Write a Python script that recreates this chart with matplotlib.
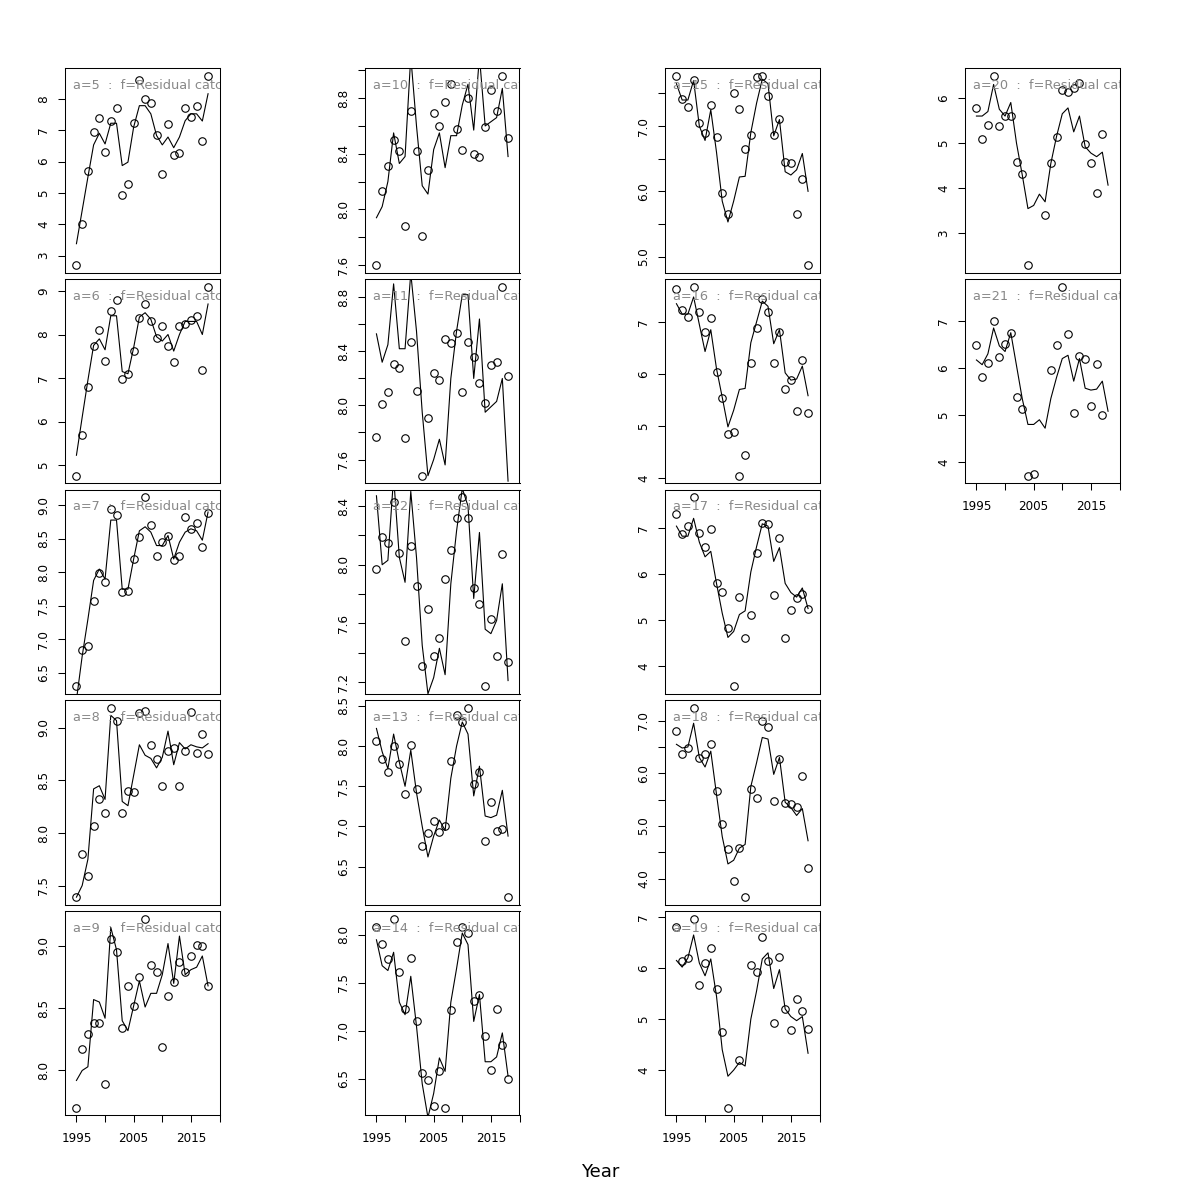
import numpy as np
import matplotlib
matplotlib.use('Agg')
import matplotlib.pyplot as plt

nan = float('nan')

years = [1995, 1996, 1997, 1998, 1999, 2000, 2001, 2002, 2003, 2004, 2005, 2006,
         2007, 2008, 2009, 2010, 2011, 2012, 2013, 2014, 2015, 2016, 2017, 2018]

# observed points (circles) and fitted line for each age
obs_a5 = [2.70, 4.01, 5.70, 6.95, 7.39, 6.31, 7.30, 7.72, 4.94, 5.29, 7.22, 8.59, 7.98, 7.85, 6.85, 5.60, 7.18, 6.20, 6.26, 7.70, 7.41, 7.77, 6.66, 8.73]
fit_a5 = [3.38, 4.44, 5.50, 6.53, 6.90, 6.56, 7.22, 7.22, 5.87, 5.98, 7.10, 7.78, 7.78, 7.52, 6.83, 6.53, 6.78, 6.44, 6.78, 7.30, 7.52, 7.52, 7.29, 8.16]
obs_a6 = [4.76, 5.69, 6.80, 7.74, 8.10, 7.39, 8.55, 8.80, 6.99, 7.09, 7.62, 8.39, 8.71, 8.30, 7.91, 8.19, 7.74, 7.36, 8.20, 8.23, 8.33, 8.43, 7.19, 9.10]
fit_a6 = [5.23, 6.10, 6.95, 7.75, 7.90, 7.65, 8.43, 8.43, 7.15, 7.10, 7.70, 8.40, 8.50, 8.35, 7.95, 7.85, 8.00, 7.62, 8.00, 8.30, 8.30, 8.30, 8.00, 8.70]
obs_a7 = [6.30, 6.84, 6.91, 7.57, 7.99, 7.86, 8.94, 8.85, 7.71, 7.73, 8.20, 8.53, 9.12, 8.70, 8.25, 8.46, 8.55, 8.19, 8.25, 8.83, 8.65, 8.73, 8.38, 8.89]
fit_a7 = [6.10, 6.75, 7.30, 7.88, 8.05, 7.90, 8.78, 8.78, 7.75, 7.75, 8.20, 8.62, 8.68, 8.60, 8.40, 8.40, 8.55, 8.20, 8.45, 8.60, 8.65, 8.62, 8.48, 8.90]
obs_a8 = [7.39, 7.80, 7.59, 8.07, 8.32, 8.19, 9.19, 9.07, 8.19, 8.40, 8.39, 9.14, 9.16, 8.84, 8.70, 8.45, 8.78, 8.81, 8.45, 8.78, 9.15, 8.76, 8.94, 8.75]
fit_a8 = [7.39, 7.50, 7.75, 8.42, 8.45, 8.32, 9.12, 9.07, 8.30, 8.26, 8.55, 8.84, 8.74, 8.71, 8.62, 8.72, 8.97, 8.65, 8.86, 8.80, 8.84, 8.82, 8.81, 8.85]
obs_a9 = [7.70, 8.17, 8.29, 8.38, 8.38, 7.89, 9.06, 8.95, 8.34, 8.68, 8.52, 8.75, 9.22, 8.85, 8.79, 8.19, 8.60, 8.71, 8.87, 8.79, 8.92, 9.01, 9.00, 8.68]
fit_a9 = [7.92, 8.00, 8.03, 8.57, 8.55, 8.42, 9.15, 8.97, 8.40, 8.32, 8.52, 8.72, 8.51, 8.62, 8.62, 8.77, 9.02, 8.70, 9.08, 8.77, 8.81, 8.83, 8.92, 8.68]
obs_a10 = [7.60, 8.135, 8.31, 8.50, 8.42, 7.88, 8.71, 8.42, 7.81, 8.28, 8.69, 8.60, 8.77, 8.90, 8.58, 8.43, 8.80, 8.40, 8.38, 8.59, 8.86, 8.71, 8.96, 8.51]
fit_a10 = [7.94, 8.02, 8.20, 8.55, 8.33, 8.38, 9.10, 8.60, 8.17, 8.11, 8.43, 8.55, 8.30, 8.53, 8.53, 8.75, 8.90, 8.57, 9.10, 8.60, 8.63, 8.66, 8.87, 8.38]
obs_a11 = [7.765, 8.01, 8.10, 8.31, 8.28, 7.76, 8.47, 8.11, 7.48, 7.91, 8.24, 8.19, 8.49, 8.46, 8.54, 8.10, 8.47, 8.36, 8.17, 8.02, 8.30, 8.32, 8.88, 8.22]
fit_a11 = [8.53, 8.32, 8.45, 8.90, 8.42, 8.42, 8.98, 8.55, 7.95, 7.48, 7.60, 7.75, 7.56, 8.20, 8.55, 8.82, 8.82, 8.20, 8.64, 7.95, 7.99, 8.03, 8.20, 7.44]
obs_a12 = [7.97, 8.19, 8.145, 8.43, 8.08, 7.48, 8.125, 7.855, 7.31, 7.70, 7.38, 7.50, 7.90, 8.10, 8.32, 8.46, 8.32, 7.84, 7.73, 7.17, 7.63, 7.38, 8.07, 7.34]
fit_a12 = [8.47, 8.00, 8.03, 8.60, 8.05, 7.88, 8.50, 8.05, 7.45, 7.12, 7.23, 7.43, 7.25, 7.87, 8.23, 8.52, 8.40, 7.77, 8.22, 7.56, 7.53, 7.62, 7.87, 7.21]
obs_a13 = [8.06, 7.84, 7.68, 8.00, 7.78, 7.40, 8.02, 7.46, 6.76, 6.92, 7.07, 6.93, 7.00, 7.81, 8.39, 8.30, 8.475, 7.53, 7.68, 6.82, 7.30, 6.94, 6.97, 6.12]
fit_a13 = [8.22, 7.93, 7.72, 8.15, 7.80, 7.50, 7.95, 7.42, 7.00, 6.62, 6.88, 7.08, 6.95, 7.60, 8.00, 8.30, 8.15, 7.38, 7.75, 7.13, 7.11, 7.14, 7.45, 6.88]
obs_a14 = [8.08, 7.91, 7.75, 8.17, 7.61, 7.23, 7.76, 7.10, 6.56, 6.49, 6.22, 6.58, 6.20, 7.22, 7.93, 8.08, 8.02, 7.31, 7.38, 6.95, 6.59, 7.23, 6.85, 6.50]
fit_a14 = [7.95, 7.68, 7.63, 7.82, 7.30, 7.17, 7.57, 7.05, 6.45, 6.10, 6.35, 6.72, 6.58, 7.30, 7.65, 8.02, 7.90, 7.10, 7.38, 6.68, 6.68, 6.73, 6.98, 6.53]
obs_a15 = [7.77, 7.41, 7.29, 7.70, 7.05, 6.89, 7.32, 6.83, 5.98, 5.66, 7.50, 7.26, 6.65, 6.86, 7.76, 7.77, 7.46, 6.87, 7.11, 6.45, 6.44, 5.65, 6.19, 4.87]
fit_a15 = [7.65, 7.40, 7.40, 7.70, 7.00, 6.78, 7.25, 6.60, 5.85, 5.53, 5.85, 6.22, 6.23, 6.90, 7.35, 7.72, 7.65, 6.85, 7.10, 6.30, 6.25, 6.33, 6.58, 6.00]
obs_a16 = [7.64, 7.23, 7.10, 7.68, 7.19, 6.80, 7.08, 6.04, 5.54, 4.85, 4.88, 4.04, 4.44, 6.20, 6.89, 7.45, 7.19, 6.20, 6.80, 5.71, 5.89, 5.29, 6.27, 5.25]
fit_a16 = [7.35, 7.15, 7.15, 7.48, 6.95, 6.43, 6.85, 6.10, 5.55, 4.98, 5.30, 5.70, 5.72, 6.60, 7.00, 7.40, 7.30, 6.58, 6.85, 6.02, 5.88, 5.90, 6.15, 5.58]
obs_a17 = [7.31, 6.88, 7.06, 7.68, 6.91, 6.60, 6.98, 5.80, 5.61, 4.83, 3.55, 5.50, 4.61, 5.11, 6.46, 7.12, 7.09, 5.54, 6.78, 4.61, 5.21, 5.49, 5.57, 5.24]
fit_a17 = [7.05, 6.83, 6.83, 7.22, 6.70, 6.38, 6.50, 5.80, 5.15, 4.62, 4.75, 5.12, 5.20, 6.05, 6.60, 7.10, 7.05, 6.28, 6.58, 5.80, 5.60, 5.50, 5.70, 5.25]
obs_a18 = [6.80, 6.36, 6.48, 7.24, 6.29, 6.36, 6.55, 5.66, 5.04, 4.56, 3.95, 4.59, 3.65, 5.70, 5.53, 7.00, 6.87, 5.48, 6.28, 5.43, 5.42, 5.36, 5.94, 4.20]
fit_a18 = [6.55, 6.48, 6.50, 6.95, 6.30, 6.12, 6.42, 5.60, 4.80, 4.28, 4.35, 4.58, 4.65, 5.75, 6.20, 6.68, 6.65, 5.98, 6.30, 5.45, 5.35, 5.20, 5.33, 4.72]
obs_a19 = [6.80, 6.14, 6.19, 6.97, 5.67, 6.10, 6.39, 5.60, 4.75, 3.26, nan, 4.20, nan, 6.06, 5.93, 6.62, 6.13, 4.93, 6.22, 5.19, 4.79, 5.39, 5.16, 4.80]
fit_a19 = [6.15, 6.02, 6.20, 6.65, 6.10, 5.85, 6.18, 5.45, 4.40, 3.88, 4.00, 4.15, 4.08, 5.00, 5.55, 6.18, 6.30, 5.60, 5.97, 5.20, 5.05, 4.97, 5.05, 4.33]
obs_a20 = [5.78, 5.10, 5.40, 6.49, 5.39, 5.61, 5.59, 4.59, 4.31, 2.30, nan, nan, 3.40, 4.57, 5.13, 6.18, 6.13, 6.23, 6.34, 4.97, 4.57, 3.89, 5.21, nan]
fit_a20 = [5.60, 5.60, 5.70, 6.30, 5.75, 5.60, 5.90, 5.00, 4.30, 3.55, 3.62, 3.87, 3.70, 4.55, 5.15, 5.65, 5.78, 5.25, 5.60, 4.92, 4.78, 4.70, 4.80, 4.07]
obs_a21 = [6.48, 5.80, 6.10, 7.00, 6.24, 6.51, 6.75, 5.38, 5.12, 3.71, 3.75, nan, nan, 5.96, 6.49, 7.73, 6.73, 5.04, 6.26, 6.19, 5.20, 6.09, 5.00, nan]
fit_a21 = [6.17, 6.07, 6.30, 6.85, 6.47, 6.35, 6.75, 6.05, 5.35, 4.80, 4.80, 4.90, 4.72, 5.35, 5.80, 6.20, 6.27, 5.72, 6.20, 5.57, 5.53, 5.55, 5.72, 5.08]

AX_W, AX_H = 154.5, 204.3   # panel size in pixels
FS = 8.64                   # 12 px text


def r_pretty(lo, hi, n=5):
    # R's axis pretty() with the axis bias factors
    cell = (hi - lo) / n
    base = 10 ** np.floor(np.log10(cell))
    unit = base
    if 2 * base - cell < 0.8 * (cell - unit):
        unit = 2 * base
        if 5 * base - cell < 1.7 * (cell - unit):
            unit = 5 * base
            if 10 * base - cell < 0.8 * (cell - unit):
                unit = 10 * base
    ns = np.floor(lo / unit + 1e-7)
    nu = np.ceil(hi / unit - 1e-7)
    ticks = np.arange(ns, nu + 1) * unit
    ticks = ticks[(ticks >= lo - 1e-9) & (ticks <= hi + 1e-9)]
    return ticks, unit


def tick_labels(ticks, unit, px_per_unit):
    dec = max(0, int(-np.floor(np.log10(unit) + 1e-9)))
    labels = ['%.*f' % (dec, t) for t in ticks]
    out = []
    last = None
    for t, lab in zip(ticks, labels):
        w = sum(0.318 * 12.5 if c == '.' else 0.636 * 12.5 for c in lab)
        pos = t * px_per_unit
        if last is None or pos - last[0] >= (w + last[1]) / 2 + 13.1:
            out.append(lab)
            last = (pos, w)
        else:
            out.append('')
    return out


def draw_panel(ax, age, obs, fit, bottom):
    ax.plot(years, fit, color='black', lw=0.8)
    ax.plot(years, obs, 'o', mfc='none', mec='black', ms=5.4, mew=0.8)
    lo, hi = np.nanmin(obs), np.nanmax(obs)
    pad = 0.04 * (hi - lo)
    ax.set_ylim(lo - pad, hi + pad)
    ax.set_xlim(1993, 2020)

    yt, yu = r_pretty(lo - pad, hi + pad)
    ax.set_yticks(yt)
    ax.set_yticklabels(tick_labels(yt, yu, AX_H / (hi - lo + 2 * pad)),
                       rotation=90, va='center', ha='right', fontsize=FS)
    ax.tick_params(axis='y', direction='out', length=5.2, width=0.75, pad=5.5)

    if bottom:
        xt, xu = r_pretty(1993, 2020)
        ax.set_xticks(xt)
        ax.set_xticklabels(tick_labels(xt, xu, AX_W / 27.0), fontsize=FS)
        ax.tick_params(axis='x', direction='out', length=5.2, width=0.75, pad=6.5)
    else:
        ax.set_xticks([])

    for sp in ax.spines.values():
        sp.set_linewidth(0.75)
        sp.set_color('black')

    ax.text(0.05, 0.899, 'a=%d  :  f=Residual catch' % age, transform=ax.transAxes,
            color='#888888', fontsize=9.3, ha='left', va='baseline',
            clip_on=True, zorder=5)


panels = [
    [(5, obs_a5, fit_a5), (6, obs_a6, fit_a6), (7, obs_a7, fit_a7), (8, obs_a8, fit_a8), (9, obs_a9, fit_a9)],
    [(10, obs_a10, fit_a10), (11, obs_a11, fit_a11), (12, obs_a12, fit_a12), (13, obs_a13, fit_a13), (14, obs_a14, fit_a14)],
    [(15, obs_a15, fit_a15), (16, obs_a16, fit_a16), (17, obs_a17, fit_a17), (18, obs_a18, fit_a18), (19, obs_a19, fit_a19)],
    [(20, obs_a20, fit_a20), (21, obs_a21, fit_a21)],
]

fig = plt.figure(figsize=(12, 12), dpi=100)
for j, col in enumerate(panels):
    for i, (age, obs, fit) in enumerate(col):
        left = 65 + 300 * j
        top = 68.3 + 210.7 * i
        ax = fig.add_axes([left / 1200, 1 - (top + AX_H) / 1200, AX_W / 1200, AX_H / 1200])
        draw_panel(ax, age, obs, fit, i == len(col) - 1)

fig.text(0.5, 1 - 1172 / 1200, 'Year', ha='center', va='center', fontsize=13)

fig.savefig('out.png', dpi=100)
